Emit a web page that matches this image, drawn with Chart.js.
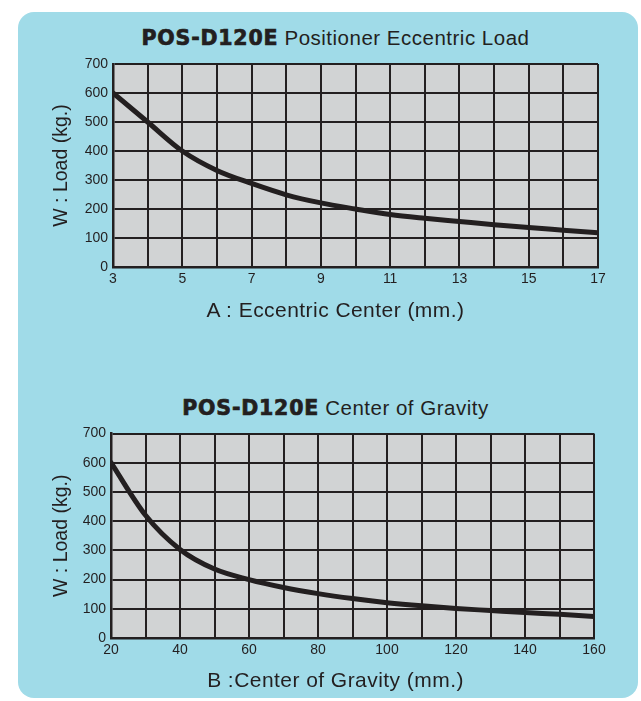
<!DOCTYPE html>
<html>
<head>
<meta charset="utf-8">
<script src="https://cdn.jsdelivr.net/npm/chart.js@4.4.1/dist/chart.umd.min.js"></script>
<style>
  html, body { margin: 0; padding: 0; background: #ffffff; }
  body { width: 641px; height: 701px; position: relative; overflow: hidden; font-family: "Liberation Sans", Arial, sans-serif; color: #231f20; }
  .panel { position: absolute; left: 18px; top: 12px; width: 620px; height: 686px; background: #a0dbe8; border-radius: 16px; }
  .box { position: absolute; left: 0; width: 641px; height: 260px; }
  .title { position: absolute; left: 0; width: 671px; text-align: center; font-size: 20.5px; line-height: 20px; white-space: nowrap; letter-spacing: 0.5px; }
  .title b { font-family: "DejaVu Sans", sans-serif; font-weight: bold; letter-spacing: 0.8px; -webkit-text-stroke: 0.7px #231f20; }
  .xtitle { position: absolute; left: 0; width: 671px; text-align: center; font-size: 21px; line-height: 21px; letter-spacing: 0.45px; white-space: nowrap; }
</style>
</head>
<body>
<div class="panel"></div>

<div class="title" style="top:28px"><b>POS-D120E</b> Positioner Eccentric Load</div>
<div class="box" style="top:40px"><canvas id="chart1"></canvas></div>
<div class="xtitle" style="top:299px">A : Eccentric Center (mm.)</div>

<div class="title" style="top:398px"><b>POS-D120E</b> Center of Gravity</div>
<div class="box" style="top:410px"><canvas id="chart2"></canvas></div>
<div class="xtitle" style="top:669px">B :Center of Gravity (mm.)</div>

<script>
// chart 1 : eccentric center (mm) vs load (kg)
var eccCenter = [3, 4, 5, 6, 7, 8, 9, 10, 11, 12, 13, 14, 15, 16, 17];
var eccLoad = [600, 500, 400, 333, 288, 249, 221, 200, 181, 168, 157, 146, 136, 127, 118];
var eccTickLabels = [3, 5, 7, 9, 11, 13, 15, 17];

// chart 2 : center of gravity (mm) vs load (kg)
var cogCenter = [20, 30, 40, 50, 60, 70, 80, 90, 100, 110, 120, 130, 140, 150, 160];
var cogLoad = [600, 420, 303, 236, 200, 173, 152, 135, 121, 110, 101, 94, 87, 81, 74];
var cogTickLabels = [20, 40, 60, 80, 100, 120, 140, 160];

var loadTicks = [0, 100, 200, 300, 400, 500, 600, 700];
var yTitle = 'W : Load (kg.)';

var ink = '#231f20';
var plotBg = '#d1d3d4';

var plotBackground = {
  id: 'plotBackground',
  beforeDraw: function (chart) {
    var a = chart.chartArea;
    var ctx = chart.ctx;
    ctx.save();
    ctx.fillStyle = plotBg;
    ctx.fillRect(a.left, a.top, a.right - a.left, a.bottom - a.top);
    ctx.restore();
  }
};

function makeChart(id, xs, ys, xLabels, xMin, xMax, xStep, yWidth, padRight, padTop, xHeight) {
  var pts = xs.map(function (x, i) { return { x: x, y: ys[i] }; });
  return new Chart(document.getElementById(id), {
    type: 'line',
    data: {
      datasets: [{
        data: pts,
        borderColor: ink,
        borderWidth: 5,
        borderCapStyle: 'round',
        pointRadius: 0,
        cubicInterpolationMode: 'monotone',
        fill: false
      }]
    },
    options: {
      responsive: true,
      maintainAspectRatio: false,
      animation: false,
      layout: { padding: { left: 0, right: padRight, top: padTop, bottom: 0 } },
      plugins: { legend: { display: false }, tooltip: { enabled: false } },
      scales: {
        x: {
          type: 'linear',
          min: xMin,
          max: xMax,
          ticks: {
            stepSize: xStep,
            padding: 4,
            color: ink,
            font: { family: 'Liberation Sans', size: 14 },
            maxRotation: 0,
            autoSkip: false,
            callback: function (v) { return xLabels.indexOf(v) >= 0 ? String(v) : ''; }
          },
          grid: { color: ink, lineWidth: 2, drawTicks: false },
          border: { color: ink, width: 2.5 },
          afterFit: function (s) { s.height = xHeight; }
        },
        y: {
          min: 0,
          max: 700,
          afterBuildTicks: function (s) { s.ticks = loadTicks.map(function (v) { return { value: v }; }); },
          ticks: {
            padding: 5,
            color: ink,
            font: { family: 'Liberation Sans', size: 14 }
          },
          grid: { color: ink, lineWidth: 2, drawTicks: false },
          border: { color: ink, width: 2.5 },
          title: {
            display: true,
            text: yTitle,
            color: ink,
            font: { family: 'Liberation Sans', size: 19.5 },
            padding: { top: 50, bottom: 0 }
          },
          afterFit: function (s) { s.width = yWidth; }
        }
      }
    },
    plugins: [plotBackground]
  });
}

makeChart('chart1', eccCenter, eccLoad, eccTickLabels, 3, 17, 1, 113, 43, 24, 33);
makeChart('chart2', cogCenter, cogLoad, cogTickLabels, 20, 160, 10, 111, 47, 23.5, 32);
</script>
</body>
</html>
